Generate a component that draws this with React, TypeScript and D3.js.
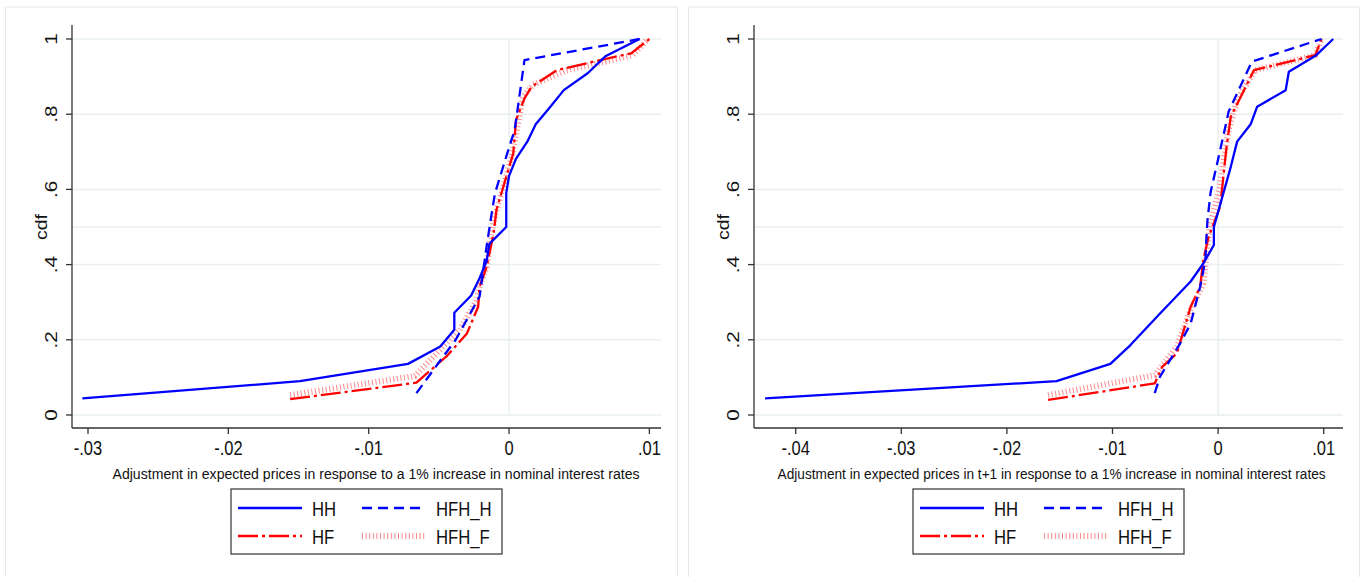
import * as d3 from "d3";

// cdf points [x, cdf]
const HH_A: [number, number][] = [
  [-0.0304, 0.044], [-0.0149, 0.09], [-0.0072, 0.136], [-0.0049, 0.182],
  [-0.0039, 0.227], [-0.0039, 0.272], [-0.0027, 0.318], [-0.0021, 0.364],
  [-0.0016, 0.409], [-0.0014, 0.455], [-0.0002, 0.5], [-0.0002, 0.59],
  [0.0, 0.636], [0.0005, 0.682], [0.0013, 0.727], [0.0019, 0.773],
  [0.0029, 0.818], [0.0039, 0.864], [0.0056, 0.909], [0.0069, 0.955], [0.0093, 1.0],
];
const HFH_H_A: [number, number][] = [
  [-0.0066, 0.058], [-0.0047, 0.155], [-0.0038, 0.2], [-0.0021, 0.315],
  [-0.0016, 0.448], [-0.0012, 0.545], [-0.001, 0.59], [-0.0002, 0.687],
  [0.0004, 0.758], [0.0011, 0.944], [0.0093, 1.0],
];
const HF_A: [number, number][] = [
  [-0.0156, 0.042], [-0.0066, 0.086], [-0.0044, 0.158], [-0.003, 0.217],
  [-0.0022, 0.288], [-0.0021, 0.341], [-0.0016, 0.394], [-0.0011, 0.483],
  [-0.0009, 0.545], [0.0003, 0.696], [0.0005, 0.785], [0.0011, 0.842],
  [0.0016, 0.873], [0.0034, 0.917], [0.0065, 0.944], [0.0087, 0.962], [0.01, 1.0],
];
const HFH_F_A: [number, number][] = [
  [-0.0156, 0.053], [-0.0067, 0.104], [-0.0047, 0.182], [-0.0035, 0.226],
  [-0.0023, 0.306], [-0.0021, 0.341], [-0.0016, 0.394], [-0.0013, 0.475],
  [-0.001, 0.53], [0.0002, 0.687], [0.001, 0.847], [0.0017, 0.878],
  [0.0041, 0.917], [0.0069, 0.94], [0.0088, 0.957], [0.0099, 1.0],
];

const HH_B: [number, number][] = [
  [-0.0429, 0.044], [-0.0153, 0.09], [-0.0102, 0.136], [-0.0083, 0.186],
  [-0.0055, 0.27], [-0.0026, 0.355], [-0.0014, 0.403], [-0.0004, 0.452],
  [-0.0004, 0.5], [0.0004, 0.58], [0.0012, 0.66], [0.0018, 0.727],
  [0.0031, 0.774], [0.0037, 0.82], [0.0064, 0.864], [0.0067, 0.913],
  [0.0093, 0.957], [0.0109, 1.0],
];
const HFH_H_B: [number, number][] = [
  [-0.006, 0.058], [-0.0055, 0.102], [-0.0036, 0.19], [-0.0026, 0.243],
  [-0.0017, 0.341], [-0.0012, 0.412], [-0.0011, 0.474], [-0.001, 0.52],
  [-0.0007, 0.594], [0.0002, 0.705], [0.001, 0.807], [0.0032, 0.94], [0.0098, 1.0],
];
const HF_B: [number, number][] = [
  [-0.0161, 0.04], [-0.006, 0.084], [-0.0053, 0.128], [-0.0039, 0.164],
  [-0.0026, 0.288], [-0.0017, 0.341], [-0.0014, 0.412], [-0.0009, 0.474],
  [0.0002, 0.554], [0.0008, 0.714], [0.0012, 0.793], [0.0034, 0.917],
  [0.0092, 0.957], [0.0098, 1.0],
];
const HFH_F_B: [number, number][] = [
  [-0.0161, 0.053], [-0.006, 0.106], [-0.0039, 0.182], [-0.0026, 0.28],
  [-0.0014, 0.35], [-0.0011, 0.421], [-0.0008, 0.5], [0.0001, 0.6],
  [0.001, 0.758], [0.0018, 0.838], [0.0035, 0.917], [0.0092, 0.957], [0.0098, 1.0],
];

const Y_TICKS = [0, 0.2, 0.4, 0.6, 0.8, 1];
const Y_TICK_LABELS = ["0", ".2", ".4", ".6", ".8", "1"];
const Y_GRID = [0, 0.2, 0.4, 0.5, 0.6, 0.8, 1];
const X_TICKS_A = [-0.03, -0.02, -0.01, 0, 0.01];
const X_TICK_LABELS_A = ["-.03", "-.02", "-.01", "0", ".01"];
const X_TICKS_B = [-0.04, -0.03, -0.02, -0.01, 0, 0.01];
const X_TICK_LABELS_B = ["-.04", "-.03", "-.02", "-.01", "0", ".01"];

const LEGEND_LABELS = ["HH", "HFH_H", "HF", "HFH_F"];

const FONT = "'Liberation Sans', Arial, Helvetica, sans-serif";
const SY = 1.22; // the picture is stretched a bit vertically

const STYLES: Record<string, { stroke: string; width: number; dash?: string }> = {
  HH: { stroke: "#0000ff", width: 2.3 },
  HFH_H: { stroke: "#0000ff", width: 2.3, dash: "10 6" },
  HF: { stroke: "#ff0000", width: 2.3, dash: "20 4 3 4" },
  HFH_F: { stroke: "#ff8a8a", width: 6, dash: "1 2.6" },
};

function SText({ x, y, size, anchor = "middle", rotate = false, len, children }: any) {
  const t = `translate(${x},${y}) scale(1,${SY})${rotate ? " rotate(-90)" : ""}`;
  return (
    <text
      transform={t}
      fontSize={size}
      fontFamily={FONT}
      textAnchor={anchor}
      fill="#111"
      textLength={len}
      lengthAdjust={len ? "spacingAndGlyphs" : undefined}
    >
      {children}
    </text>
  );
}

function Panel({ box, axisX, plotRight, xDomain, xRange, xTicks, xTickLabels, title, titleX, titleLen, series }: any) {
  const x = d3.scaleLinear().domain(xDomain).range(xRange);
  const y = d3.scaleLinear().domain([0, 1]).range([415, 39]);
  const axisY = 428;
  const line = d3.line<[number, number]>().x((d) => x(d[0])).y((d) => y(d[1]));
  const legX = (axisX + plotRight) / 2 - 135.5;
  const legY = 489;

  return (
    <g>
      <rect x={box[0]} y={box[1]} width={box[2]} height={box[3]} fill="#fff" stroke="#e2eaed" strokeWidth={1} />

      {/* grid */}
      {Y_GRID.map((v) => (
        <line key={v} x1={axisX} x2={plotRight} y1={y(v)} y2={y(v)} stroke="#e8eff1" strokeWidth={1.5} />
      ))}
      <line x1={x(0)} x2={x(0)} y1={y(0)} y2={y(1)} stroke="#e8eff1" strokeWidth={1.5} />

      {/* series */}
      {["HFH_F", "HF", "HFH_H", "HH"].map((k) => {
        const s = STYLES[k];
        return (
          <path
            key={k}
            d={line(series[k]) || ""}
            fill="none"
            stroke={s.stroke}
            strokeWidth={s.width}
            strokeDasharray={s.dash}
            strokeLinejoin="round"
          />
        );
      })}

      {/* axes */}
      <line x1={axisX} x2={axisX} y1={25} y2={axisY} stroke="#333" strokeWidth={1.3} />
      <line x1={axisX} x2={plotRight} y1={axisY} y2={axisY} stroke="#333" strokeWidth={1.3} />
      {Y_TICKS.map((v, i) => (
        <g key={v}>
          <line x1={axisX - 6} x2={axisX} y1={y(v)} y2={y(v)} stroke="#333" strokeWidth={1.3} />
          <SText x={axisX - 15} y={y(v)} size={17} rotate>
            {Y_TICK_LABELS[i]}
          </SText>
        </g>
      ))}
      <SText x={axisX - 25} y={227} size={16} rotate>
        cdf
      </SText>
      {xTicks.map((v: number, i: number) => (
        <g key={v}>
          <line x1={x(v)} x2={x(v)} y1={axisY} y2={axisY + 6} stroke="#333" strokeWidth={1.3} />
          <SText x={x(v)} y={455} size={16.5}>
            {xTickLabels[i]}
          </SText>
        </g>
      ))}
      <SText x={titleX} y={479} size={12.5} len={titleLen}>
        {title}
      </SText>

      {/* legend */}
      <rect x={legX} y={legY} width={271} height={65} fill="#fff" stroke="#333" strokeWidth={1.2} />
      {LEGEND_LABELS.map((k, i) => {
        const col = i % 2;
        const row = Math.floor(i / 2);
        const lx = legX + 7 + col * 124;
        const ly = legY + 19 + row * 28;
        const s = STYLES[k];
        return (
          <g key={k}>
            <line
              x1={lx}
              x2={lx + 64}
              y1={ly}
              y2={ly}
              stroke={s.stroke}
              strokeWidth={s.width}
              strokeDasharray={s.dash}
            />
            <SText x={lx + 74} y={ly + 8} size={16.7} anchor="start">
              {k}
            </SText>
          </g>
        );
      })}
    </g>
  );
}

export default function App() {
  return (
    <svg
      width={1364}
      height={577}
      style={{ position: "absolute", left: 0, top: 0, background: "#fff" }}
    >
      <Panel
        box={[5.5, 7, 672, 580]}
        axisX={72}
        plotRight={661}
        xDomain={[-0.03, 0.01]}
        xRange={[88, 649.4]}
        xTicks={X_TICKS_A}
        xTickLabels={X_TICK_LABELS_A}
        title="Adjustment in expected prices in response to a 1% increase in nominal interest rates"
        titleX={376}
        titleLen={527}
        series={{ HH: HH_A, HFH_H: HFH_H_A, HF: HF_A, HFH_F: HFH_F_A }}
      />
      <Panel
        box={[688.5, 7, 671, 580]}
        axisX={754}
        plotRight={1343}
        xDomain={[-0.04, 0.01]}
        xRange={[795.7, 1323.7]}
        xTicks={X_TICKS_B}
        xTickLabels={X_TICK_LABELS_B}
        title="Adjustment in expected prices in t+1 in response to a 1% increase in nominal interest rates"
        titleX={1051.6}
        titleLen={548}
        series={{ HH: HH_B, HFH_H: HFH_H_B, HF: HF_B, HFH_F: HFH_F_B }}
      />
    </svg>
  );
}
